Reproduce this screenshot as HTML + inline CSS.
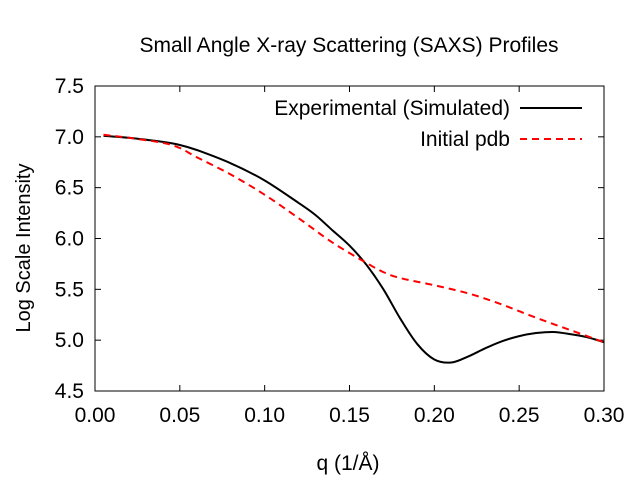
<!DOCTYPE html>
<html><head><meta charset="utf-8"><style>
body{margin:0;background:#fff;}
svg{display:block;font-family:"Liberation Sans",sans-serif;}
</style></head><body>
<svg id="chart" width="640" height="480"></svg>
<script>
const xTicks=[0,0.05,0.10,0.15,0.20,0.25,0.30];
const xTickLabels=["0.00","0.05","0.10","0.15","0.20","0.25","0.30"];
const yTicks=[4.5,5.0,5.5,6.0,6.5,7.0,7.5];
const yTickLabels=["4.5","5.0","5.5","6.0","6.5","7.0","7.5"];
const qExp=[0.005,0.02,0.04,0.05,0.06,0.08,0.10,0.12,0.13,0.14,0.15,0.16,0.17,0.18,0.19,0.20,0.21,0.22,0.23,0.24,0.25,0.26,0.27,0.28,0.29,0.30];
const iExp=[7.01,6.99,6.95,6.92,6.87,6.74,6.57,6.35,6.23,6.08,5.93,5.74,5.50,5.21,4.96,4.81,4.78,4.84,4.92,4.99,5.04,5.07,5.08,5.06,5.03,4.98];
const qPdb=[0.005,0.02,0.04,0.05,0.06,0.08,0.10,0.12,0.14,0.16,0.17,0.18,0.20,0.22,0.24,0.26,0.28,0.30];
const iPdb=[7.02,6.99,6.94,6.89,6.80,6.63,6.43,6.20,5.96,5.76,5.67,5.61,5.54,5.46,5.35,5.22,5.10,4.98];
const L=95,R=604,T=86,B=391;
const xs=v=>L+(v-0)/(0.30)*(R-L);
const ys=v=>B-(v-4.5)/3*(B-T);
const svg=document.getElementById('chart');
const NS='http://www.w3.org/2000/svg';
function mk(tag,attrs,txt){const e=document.createElementNS(NS,tag);for(const k in attrs)e.setAttribute(k,attrs[k]);if(txt!==undefined)e.textContent=txt;svg.appendChild(e);return e;}
let e=mk('rect',{x:L,y:T,width:R-L,height:B-T,fill:'none',stroke:'#000','stroke-width':1});


xTicks.forEach((t,i)=>{const x=xs(t);
 let a=mk('line',{x1:x,x2:x,y1:B,y2:B-6,stroke:'#000'});
 let b=mk('line',{x1:x,x2:x,y1:T,y2:T+6,stroke:'#000'});
 let l=mk('text',{x:x,y:B+31,'font-size':21,'text-anchor':'middle'},xTickLabels[i]);});
yTicks.forEach((t,i)=>{const y=ys(t);
 let a=mk('line',{x1:L,x2:L+6,y1:y,y2:y,stroke:'#000'});
 let b=mk('line',{x1:R,x2:R-6,y1:y,y2:y,stroke:'#000'});
 let l=mk('text',{x:L-11,y:y+7,'font-size':21,'text-anchor':'end'},yTickLabels[i]);});
function smooth(q,v){const P=q.map((d,i)=>[xs(d),ys(v[i])]);let s='M'+P[0][0].toFixed(1)+','+P[0][1].toFixed(1);
 for(let i=0;i<P.length-1;i++){const p0=P[i-1]||P[i],p1=P[i],p2=P[i+1],p3=P[i+2]||P[i+1];
  const c1=[p1[0]+(p2[0]-p0[0])/6,p1[1]+(p2[1]-p0[1])/6],c2=[p2[0]-(p3[0]-p1[0])/6,p2[1]-(p3[1]-p1[1])/6];
  s+=' C'+c1.map(n=>n.toFixed(1)).join(',')+' '+c2.map(n=>n.toFixed(1)).join(',')+' '+p2.map(n=>n.toFixed(1)).join(',');}
 return s;}
let p1=mk('path',{d:smooth(qExp,iExp),fill:'none',stroke:'#000','stroke-width':2});

let p2=mk('path',{d:smooth(qPdb,iPdb),fill:'none',stroke:'#f00','stroke-width':2,'stroke-dasharray':'7,5'});

let t=mk('text',{x:349,y:52,'font-size':21,'text-anchor':'middle'},'Small Angle X-ray Scattering (SAXS) Profiles');
t=mk('text',{x:348,y:470,'font-size':21,'text-anchor':'middle'},'q (1/Å)');
t=mk('text',{x:0,y:0,'font-size':20,'text-anchor':'middle',transform:'translate(30,248) rotate(-90)'},'Log Scale Intensity');
t=mk('text',{x:510,y:115,'font-size':21,'text-anchor':'end'},'Experimental (Simulated)');
e=mk('line',{x1:520,x2:582,y1:108,y2:108,stroke:'#000','stroke-width':2});
t=mk('text',{x:510,y:146,'font-size':21,'text-anchor':'end'},'Initial pdb');
e=mk('line',{x1:520,x2:582,y1:139,y2:139,stroke:'#f00','stroke-width':2,'stroke-dasharray':'7,5'});
</script>
</body></html>
